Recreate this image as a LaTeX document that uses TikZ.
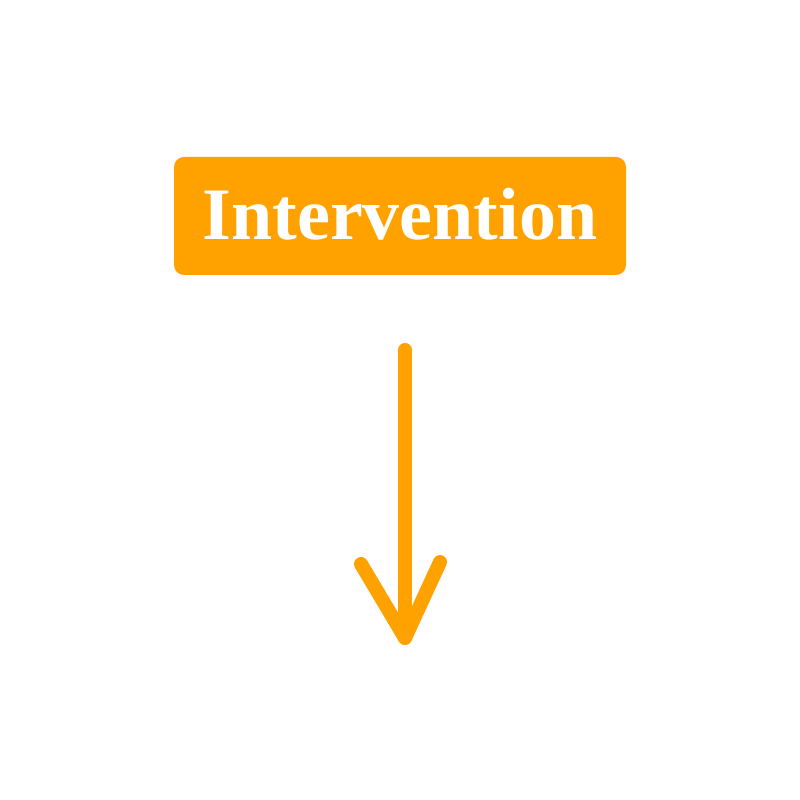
\documentclass[tikz,border=0pt]{standalone}
\usepackage{fontspec}
\setmainfont{Liberation Serif}
\definecolor{boxorange}{HTML}{FFA200}
\begin{document}
\begin{tikzpicture}[x=1pt,y=1pt,
  labelbox/.style={fill=boxorange, rounded corners=10pt, minimum width=452pt, minimum height=118pt, inner sep=0pt, text=white, font=\fontsize{74}{80}\selectfont\bfseries},
  arrowline/.style={draw=boxorange, line width=14pt, line cap=round, line join=round}]
\useasboundingbox (0,0) rectangle (800,800);
\node[labelbox] (box) at (400,584) {\raisebox{5pt}{Intervention}};
\coordinate (s) at (405,450);
\coordinate (e) at (405,162);
\coordinate (hl) at (361,236);
\coordinate (hr) at (440,238);
\draw[arrowline] (s) -- (e);
\draw[arrowline] (hl) -- (e) -- (hr);
\end{tikzpicture}
\end{document}
